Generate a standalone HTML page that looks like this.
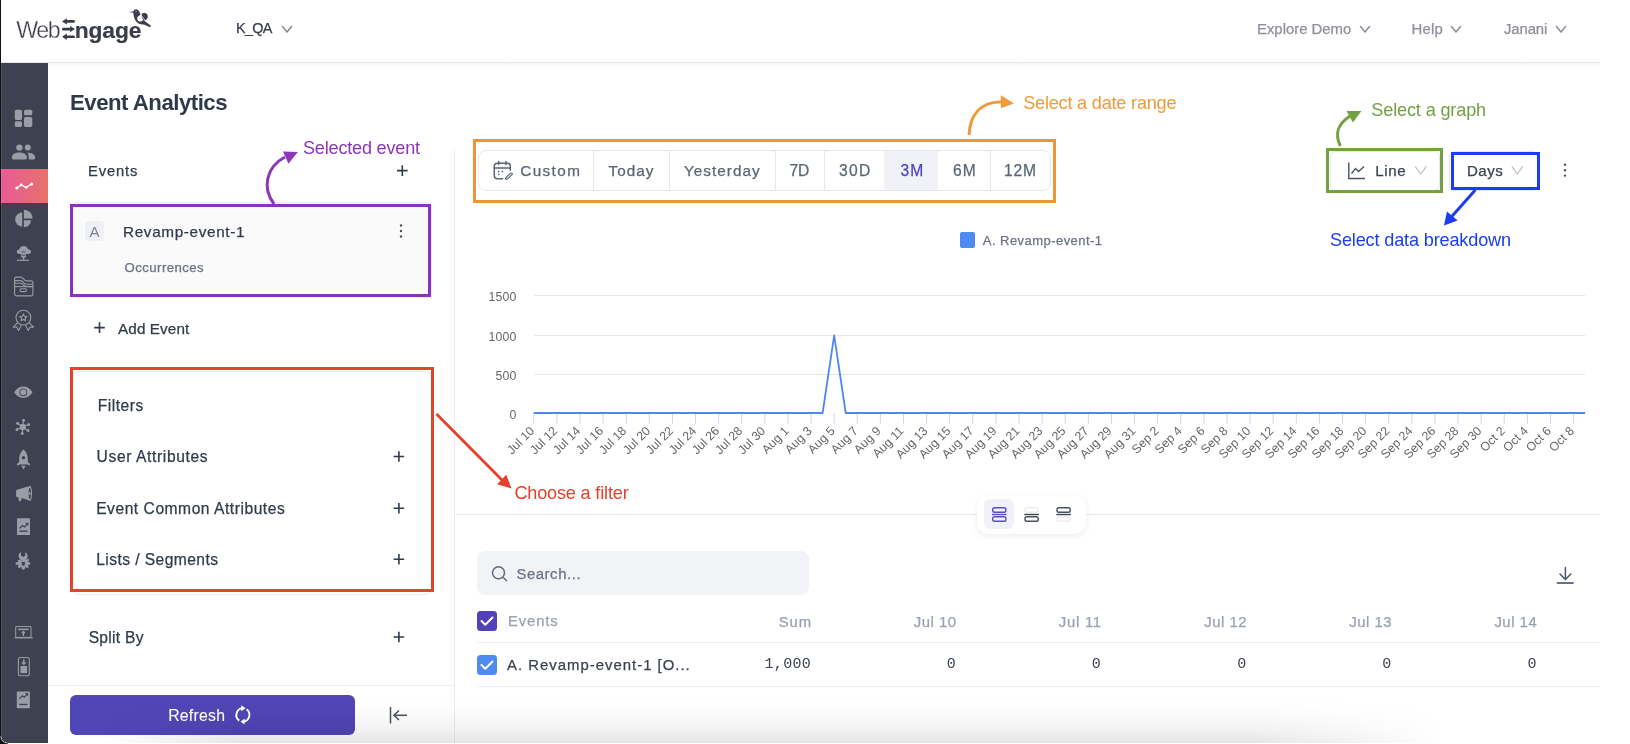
<!DOCTYPE html>
<html><head><meta charset="utf-8"><style>
html,body{margin:0;padding:0;background:#fff;}
#root{position:relative;-webkit-font-smoothing:antialiased;will-change:transform;width:1630px;height:744px;overflow:hidden;background:#fff;font-family:'Liberation Sans', sans-serif;}
.t{position:absolute;line-height:1;white-space:pre;-webkit-text-stroke:0.25px currentColor;}
.a{position:absolute;}
svg{position:absolute;overflow:visible;}
</style></head><body><div id="root">
<div class="a" style="left:0;top:0;width:1px;height:744px;background:#111;"></div><div class="a" style="left:1px;top:62px;width:1599px;height:1px;background:#e4e6ea;"></div><div class="a" style="left:48px;top:63px;width:1552px;height:4px;background:linear-gradient(#f3f4f6,#fff);"></div><svg style="left:0;top:0" width="160" height="50" viewBox="0 0 160 50">
<g fill="#3b3d4b">
<rect x="65.5" y="20.1" width="9.4" height="2.7" rx="1.2"/><path d="M62 21.45 L66.8 18.3 L66.8 24.6 Z"/>
<rect x="62" y="27.75" width="9.4" height="2.7" rx="1.2"/><path d="M74.9 29.1 L70.1 25.95 L70.1 32.25 Z"/>
<rect x="65.5" y="35.4" width="9.4" height="2.7" rx="1.2"/><path d="M62 36.75 L66.8 33.6 L66.8 39.9 Z"/>
<path d="M129 12.2 L133.4 11.3 C133.9 9.9 134.9 9.2 136 9.2 C137.6 9.2 139 10.5 140.6 14.2 L139.6 15.4 C138 15.8 137.2 17 137.2 18.5 C137.2 20.4 138.7 21.6 140.3 21.6 C141.5 21.6 142.4 21 143.1 20.1 L145 21.2 L151 25.7 L149.8 27.3 L144 24.5 C142.5 24.6 140.5 24.4 138.6 23.5 C135.2 21.7 133.8 18.2 133.4 13.6 L133 12.6 Z"/>
<path d="M141.6 14.4 C142.2 13.2 143.4 13.1 144.6 13.1 C146.5 13.1 147.8 14.6 147.8 16.4 C147.8 18.4 146.2 19.8 144.5 20.6 L143.2 20 C142.4 18.4 141.2 15.8 141.6 14.4 Z"/>
</g>
<path d="M140.8 14.6 L145 20.3" stroke="#fff" stroke-width="0.7"/>
<rect x="135.4" y="10.9" width="1.3" height="1.3" fill="#9a9ca6"/>
</svg><svg style="left:0;top:0" width="1" height="1"><path d="M282.5 26.5 L287.0 32 L291.5 26.5" fill="none" stroke="#8b8e97" stroke-width="1.6" stroke-linecap="round" stroke-linejoin="round"/></svg><svg style="left:0;top:0" width="1" height="1"><path d="M1360.5 26.5 L1365.0 32 L1369.5 26.5" fill="none" stroke="#8f919a" stroke-width="1.6" stroke-linecap="round" stroke-linejoin="round"/></svg><svg style="left:0;top:0" width="1" height="1"><path d="M1451.5 26.5 L1456.0 32 L1460.5 26.5" fill="none" stroke="#8f919a" stroke-width="1.6" stroke-linecap="round" stroke-linejoin="round"/></svg><svg style="left:0;top:0" width="1" height="1"><path d="M1556.5 26.5 L1561.0 32 L1565.5 26.5" fill="none" stroke="#8f919a" stroke-width="1.6" stroke-linecap="round" stroke-linejoin="round"/></svg><div class="a" style="left:1px;top:63px;width:47px;height:680px;background:#3e414f;border-bottom-left-radius:6px;"></div><div class="a" style="left:1px;top:169px;width:47px;height:34px;background:linear-gradient(90deg,#e95b96,#e8716a);"></div><div class="a" style="left:1px;top:63px;width:1px;height:675px;background:rgba(255,255,255,0.09);"></div><svg style="left:0;top:0" width="48" height="744" viewBox="0 0 48 744">
<g fill="#9a9ca6">
<rect x="14.8" y="109.7" width="7.2" height="10.3" rx="1.6"/>
<rect x="24" y="109.7" width="8.3" height="5.6" rx="1.6"/>
<rect x="14.8" y="121.3" width="7.2" height="5.6" rx="1.6"/>
<rect x="24" y="117" width="8.3" height="9.9" rx="1.6"/>
<circle cx="19.4" cy="147.6" r="3.2"/><circle cx="27.8" cy="147.6" r="3"/>
<path d="M13.3 159.4 Q11.8 159.4 11.8 157.8 C11.8 154.2 15.3 152.4 19.4 152.4 C23.5 152.4 27 154.2 27 157.8 Q27 159.4 25.5 159.4 Z"/>
<path d="M27.4 152.6 C31.8 152.8 35.2 154.5 35.2 157.8 Q35.2 159.4 33.7 159.4 L29.6 159.4 Q28.7 159.4 28.7 158.4 C28.7 155.8 28.5 154.2 27.4 152.6 Z"/>
<path d="M22.2 212.5 A7.05 7.05 0 0 0 22.2 226.6 Z"/>
<path d="M23.9 209.8 A8.7 8.7 0 0 1 32.6 218.5 L23.9 218.5 Z"/>
<path d="M23.9 220.2 L30.95 220.2 A7.05 7.05 0 0 1 23.9 227.25 Z"/>
<path d="M19 254 C17.6 254 16.8 253 16.8 251.8 C16.8 250.4 17.9 249.5 19.3 249.6 C19.7 247.4 21.5 246 23.7 246 C26 246 27.6 247.4 28 249.3 C29.7 249.2 31 250.3 31 251.7 C31 253 30 254 28.7 254 Z"/>
<rect x="21" y="253.8" width="5" height="3.6" rx="0.6"/>
<rect x="23" y="257" width="1.3" height="3"/>
<rect x="17" y="259.7" width="12" height="1.2"/>
</g>
<g fill="#3e414f"><rect x="21.6" y="251.5" width="3.8" height="0.8"/><rect x="21.6" y="254.8" width="3.8" height="0.8"/></g>
<g fill="none" stroke="#fff" stroke-width="1.3" stroke-linejoin="round"><path d="M16.8 188 L21.2 185 L26.2 187.4 L31.6 184"/></g>
<g fill="#fff"><circle cx="16.8" cy="188" r="1.5"/><circle cx="21.2" cy="185" r="1.4"/><circle cx="26.2" cy="187.4" r="1.4"/><circle cx="31.6" cy="184" r="1.5"/></g>
<g fill="none" stroke="#9a9ca6" stroke-width="1.1" stroke-linejoin="round">
<path d="M14.6 279 Q14.6 277.1 16.5 277.1 L20.5 277.1 C22.3 277.1 23 278 24 279.4 C24.8 280.5 25.5 280.9 26.6 280.9 L31 280.9 Q32.9 280.9 32.9 282.8 L32.9 294 Q32.9 295.9 31 295.9 L16.5 295.9 Q14.6 295.9 14.6 294 Z"/>
<path d="M14.6 280.6 L20.3 280.6 C22 280.6 22.8 281.5 23.8 282.8 C24.6 283.8 25.4 284.2 26.5 284.2 L32.9 284.2"/>
<path d="M14.6 283.3 L20.3 283.3 C22 283.3 22.8 284.2 23.8 285.2 C24.4 285.8 25.2 286.6 26.5 286.6 L32.9 286.6"/>
<path d="M14.6 286.6 L32.9 286.6"/>
<rect x="20" y="288.8" width="6.5" height="2.8" rx="1.4"/>
<circle cx="23.4" cy="317.6" r="7.4"/>
<path d="M23.4 313.9 L24.5 316.3 L27 316.5 L25.1 318.2 L25.7 320.7 L23.4 319.4 L21.1 320.7 L21.7 318.2 L19.8 316.5 L22.3 316.3 Z"/>
<path d="M17.8 322.6 L13.2 327.2 L16.6 327.1 L18.6 330.6 L21.2 325.2"/>
<path d="M29 322.6 L33.6 327.2 L30.2 327.1 L28.2 330.6 L25.6 325.2"/>
<path d="M15.7 626.6 L31 626.6 L31 637.4 L15.7 637.4 Z" stroke-width="1"/>
<path d="M14.5 637.9 L32.8 637.9" stroke-width="1.1"/>
<path d="M18 629.4 L28.8 629.4" stroke-width="1.5"/>
<path d="M23.4 631.5 L23.4 636 M21.8 633 L23.4 631.5 L25 633" stroke-width="1.3"/>
<rect x="18.4" y="657.5" width="10.9" height="18.3" rx="2" stroke-width="1.1"/>
</g>
<path d="M14.2 392.3 C16.5 388.5 19.6 386.6 23.3 386.6 C27 386.6 30.1 388.5 32.5 392.3 C30.1 396.1 27 398 23.3 398 C19.6 398 16.5 396.1 14.2 392.3 Z" fill="#9a9ca6"/>
<circle cx="23.3" cy="392.3" r="3.9" fill="#3e414f"/><circle cx="23.3" cy="392.3" r="3" fill="#9a9ca6"/>
<g stroke="#9a9ca6" stroke-width="1.1"><path d="M22.8 427 L23.5 420.3 M22.8 427 L17.6 423.2 M22.8 427 L28.6 424.5 M22.8 427 L17 429.6 M22.8 427 L22.2 433.5 M22.8 427 L28 430.6"/></g>
<g fill="#9a9ca6"><circle cx="22.8" cy="427" r="3.2"/><circle cx="23.5" cy="420.3" r="1.5"/><circle cx="17.6" cy="423.2" r="1.5"/><circle cx="28.6" cy="424.5" r="1.5"/><circle cx="17" cy="429.6" r="1.5"/><circle cx="22.2" cy="433.5" r="1.5"/><circle cx="28" cy="430.6" r="1.5"/>
<path d="M23.5 449.6 C26.2 451.5 27.8 455 27.8 459 L27.8 462 L30 464 L30 465.5 L27.5 464.8 L19.5 464.8 L17 465.5 L17 464 L19.2 462 L19.2 459 C19.2 455 20.8 451.5 23.5 449.6 Z"/>
<path d="M21.2 465.6 L25.8 465.6 L24.6 467.5 L23.5 469.4 L22.4 467.5 Z"/>
<path d="M16.2 490 L28.5 486.2 L29.5 500.5 L21.5 498 L21 501 L19 501.2 L18.2 497.2 L16 496.5 Z"/>
<ellipse cx="29.8" cy="493.4" rx="2.3" ry="7.6"/>
<rect x="17" y="518.2" width="13" height="16.9" rx="0.6"/>
<path d="M21 552.2 C19 553 18.4 554.8 18.6 556.5 C18.9 558.4 20.2 559.7 21.6 560.3 L21.6 562 L25 562 L25 560.3 C26.6 559.6 27.6 558.2 27.6 556.3 C27.6 554.6 26.9 553 25.3 552.2 L25.3 555.5 L23.3 557 L21 555.5 Z"/>
<path d="M20.3 559.8 L21.6 558.7 L21.6 563 L25 563 L25 558.7 L26.3 559.8 L28.2 558.6 L29.2 560 L28 561.8 L30.2 562.5 L30.2 564.4 L28 565 L28.8 567.2 L27.2 568.2 L25.6 566.7 L24.4 569.4 L22.2 569.4 L21 566.7 L19.4 568.2 L17.8 567.2 L18.6 565 L15.6 564.4 L15.6 562.5 L18.6 561.8 L17.4 560 Z"/>
<rect x="20.5" y="666" width="6.6" height="7.2"/>
<rect x="16.8" y="691.5" width="13.1" height="16.8" rx="0.6"/>
</g>
<ellipse cx="29.8" cy="493.4" rx="1.1" ry="5.6" fill="#3e414f"/>
<path d="M29 491.6 L31 493.4 L29 495.2 Z" fill="#9a9ca6"/>
<circle cx="23.5" cy="457.8" r="1.7" fill="#3e414f"/>
<path d="M19.4 465 L27.6 465" stroke="#3e414f" stroke-width="0.8"/>
<g fill="none" stroke="#3e414f" stroke-width="1.1"><path d="M19.5 528.5 L22.5 525.5 L24.5 527 L27.8 523.3 M25.7 523.3 L27.8 523.3 L27.8 525.4"/><path d="M19.3 698.8 L22.3 695.8 L24.3 697.3 L27.6 693.6 M25.5 693.6 L27.6 693.6 L27.6 695.7"/></g>
<g fill="#3e414f"><rect x="19.5" y="530.5" width="8" height="1.3"/><rect x="19.3" y="703.8" width="8" height="1.3"/><circle cx="23.3" cy="564" r="1.7"/></g>
<path d="M23.8 659.3 L23.8 664 M22 662.3 L23.8 664.2 L25.6 662.3" fill="none" stroke="#9a9ca6" stroke-width="1.4"/>
</svg><div class="a" style="left:454px;top:150px;width:1px;height:594px;background:#eceef2;"></div><svg style="left:0;top:0" width="1" height="1"><path d="M397.0 170.6 L407.6 170.6 M402.3 165.29999999999998 L402.3 175.9" stroke="#313b4b" stroke-width="1.6"/></svg><div class="a" style="left:71px;top:202px;width:359px;height:94px;background:#fafafb;border-radius:6px;border:1px solid #e8eaee;"></div><div class="a" style="left:85px;top:221px;width:19px;height:20px;background:#eef0f5;border-radius:4px;"></div><svg style="left:0;top:0" width="1" height="1"><g fill="#4b5260"><circle cx="401" cy="225.5" r="1.2"/><circle cx="401" cy="231" r="1.2"/><circle cx="401" cy="236.5" r="1.2"/></g></svg><svg style="left:0;top:0" width="1" height="1"><path d="M94.2 327.6 L104.8 327.6 M99.5 322.3 L99.5 332.90000000000003" stroke="#313b4b" stroke-width="1.6"/></svg><div class="a" style="left:72px;top:370.5px;width:358px;height:222px;border:1px solid #e9ebef;border-radius:6px;background:#fff;"></div><svg style="left:0;top:0" width="1" height="1"><path d="M393.59999999999997 456.5 L404.2 456.5 M398.9 451.2 L398.9 461.8" stroke="#313b4b" stroke-width="1.6"/></svg><svg style="left:0;top:0" width="1" height="1"><path d="M393.59999999999997 508.2 L404.2 508.2 M398.9 502.9 L398.9 513.5" stroke="#313b4b" stroke-width="1.6"/></svg><svg style="left:0;top:0" width="1" height="1"><path d="M393.59999999999997 559.3 L404.2 559.3 M398.9 554.0 L398.9 564.5999999999999" stroke="#313b4b" stroke-width="1.6"/></svg><svg style="left:0;top:0" width="1" height="1"><path d="M393.59999999999997 637 L404.2 637 M398.9 631.7 L398.9 642.3" stroke="#313b4b" stroke-width="1.6"/></svg><div class="a" style="left:48px;top:685px;width:406px;height:1px;background:#eceef2;"></div><div class="a" style="left:70px;top:695px;width:285px;height:40px;background:#5046b6;border-radius:6px;"></div><svg style="left:0;top:0" width="1" height="1"><g fill="none" stroke="#fff" stroke-width="1.9">
<path d="M242.6 708.1 A6.9 6.9 0 0 0 239.3 720.6"/><path d="M246.6 709.3 A6.9 6.9 0 0 1 243.4 721.7"/></g>
<g fill="#fff"><path d="M241.3 705.2 L245.6 708.3 L241.3 711.2 Z"/><path d="M244.7 718.6 L240.5 721.7 L244.7 724.6 Z"/></g></svg><svg style="left:0;top:0" width="1" height="1"><g fill="none" stroke="#4b5260" stroke-width="1.5">
<path d="M390.5 707 L390.5 723.5"/><path d="M394 715.3 L407 715.3"/><path d="M399 710.5 L394 715.3 L399 720"/></g></svg><div class="a" style="left:477.5px;top:150px;width:571.5px;height:38.5px;border:1px solid #e5e7ec;border-radius:8px;background:#fff;"></div><div class="a" style="left:884px;top:151px;width:54px;height:38.5px;background:#f1f2f7;"></div><div class="a" style="left:592.9px;top:151px;width:1px;height:38.5px;background:#e5e7ec;"></div><div class="a" style="left:668.9px;top:151px;width:1px;height:38.5px;background:#e5e7ec;"></div><div class="a" style="left:775.1px;top:151px;width:1px;height:38.5px;background:#e5e7ec;"></div><div class="a" style="left:824.0px;top:151px;width:1px;height:38.5px;background:#e5e7ec;"></div><div class="a" style="left:990.0px;top:151px;width:1px;height:38.5px;background:#e5e7ec;"></div><svg style="left:0;top:0" width="1" height="1"><g fill="none" stroke="#5b6577" stroke-width="1.5" stroke-linecap="round">
<path d="M510.3 170.3 L510.3 166.3 Q510.3 163.3 507.3 163.3 L497.3 163.3 Q494.3 163.3 494.3 166.3 L494.3 175.8 Q494.3 178.8 497.3 178.8 L502.5 178.8"/>
<path d="M494.3 167.9 L510.3 167.9"/><path d="M498.7 161.6 L498.7 164.6 M506 161.6 L506 164.6"/>
<path d="M505.9 177.6 L510.4 173.4 Q511.3 172.6 512 173.4 Q512.6 174.2 511.8 174.9 L507.3 179 Q506.3 179.6 505.7 179 Q505.2 178.3 505.9 177.6 Z" stroke-width="1.2"/></g>
<g fill="#5b6577"><rect x="498" y="170.8" width="1.5" height="1.5"/><rect x="501.6" y="170.8" width="1.5" height="1.5"/><rect x="498" y="173.8" width="1.5" height="1.3"/></g></svg><div class="a" style="left:1330px;top:151px;width:108px;height:38px;border:1px solid #e5e7ec;border-radius:6px;"></div><div class="a" style="left:1449px;top:151px;width:87px;height:38px;border:1px solid #e5e7ec;border-radius:6px;"></div><svg style="left:0;top:0" width="1" height="1"><g fill="none" stroke="#4b5260" stroke-width="1.4">
<path d="M1348.8 162.5 L1348.8 178.5 L1365 178.5"/><path d="M1351.5 173.5 L1355.5 168.5 L1358.5 171.5 L1364 166.5"/></g></svg><svg style="left:0;top:0" width="1" height="1"><path d="M1415.5 166.8 L1420.75 174 L1426 166.8" fill="none" stroke="#b9bdc5" stroke-width="1.2" stroke-linecap="round" stroke-linejoin="round"/></svg><svg style="left:0;top:0" width="1" height="1"><path d="M1512.2 166.8 L1517.3000000000002 174 L1522.4 166.8" fill="none" stroke="#b9bdc5" stroke-width="1.2" stroke-linecap="round" stroke-linejoin="round"/></svg><svg style="left:0;top:0" width="1" height="1"><g fill="#4b5260"><circle cx="1565" cy="164.8" r="1.2"/><circle cx="1565" cy="170.2" r="1.2"/><circle cx="1565" cy="175.6" r="1.2"/></g></svg><div class="a" style="left:960px;top:232px;width:15px;height:15.5px;background:#4f8af0;border-radius:2px;"></div><div class="a" style="left:534px;top:294.5px;width:1051px;height:1px;background:#e6e6e6;"></div><div class="a" style="left:534px;top:334.8px;width:1051px;height:1px;background:#e6e6e6;"></div><div class="a" style="left:534px;top:373.5px;width:1051px;height:1px;background:#e6e6e6;"></div><svg style="left:0;top:0" width="1" height="1"><path d="M533.80 413 L533.80 423.5" stroke="#ccd6eb" stroke-width="1"/><path d="M556.91 413 L556.91 423.5" stroke="#ccd6eb" stroke-width="1"/><path d="M580.01 413 L580.01 423.5" stroke="#ccd6eb" stroke-width="1"/><path d="M603.12 413 L603.12 423.5" stroke="#ccd6eb" stroke-width="1"/><path d="M626.22 413 L626.22 423.5" stroke="#ccd6eb" stroke-width="1"/><path d="M649.33 413 L649.33 423.5" stroke="#ccd6eb" stroke-width="1"/><path d="M672.44 413 L672.44 423.5" stroke="#ccd6eb" stroke-width="1"/><path d="M695.54 413 L695.54 423.5" stroke="#ccd6eb" stroke-width="1"/><path d="M718.65 413 L718.65 423.5" stroke="#ccd6eb" stroke-width="1"/><path d="M741.75 413 L741.75 423.5" stroke="#ccd6eb" stroke-width="1"/><path d="M764.86 413 L764.86 423.5" stroke="#ccd6eb" stroke-width="1"/><path d="M787.97 413 L787.97 423.5" stroke="#ccd6eb" stroke-width="1"/><path d="M811.07 413 L811.07 423.5" stroke="#ccd6eb" stroke-width="1"/><path d="M834.18 413 L834.18 423.5" stroke="#ccd6eb" stroke-width="1"/><path d="M857.28 413 L857.28 423.5" stroke="#ccd6eb" stroke-width="1"/><path d="M880.39 413 L880.39 423.5" stroke="#ccd6eb" stroke-width="1"/><path d="M903.50 413 L903.50 423.5" stroke="#ccd6eb" stroke-width="1"/><path d="M926.60 413 L926.60 423.5" stroke="#ccd6eb" stroke-width="1"/><path d="M949.71 413 L949.71 423.5" stroke="#ccd6eb" stroke-width="1"/><path d="M972.81 413 L972.81 423.5" stroke="#ccd6eb" stroke-width="1"/><path d="M995.92 413 L995.92 423.5" stroke="#ccd6eb" stroke-width="1"/><path d="M1019.03 413 L1019.03 423.5" stroke="#ccd6eb" stroke-width="1"/><path d="M1042.13 413 L1042.13 423.5" stroke="#ccd6eb" stroke-width="1"/><path d="M1065.24 413 L1065.24 423.5" stroke="#ccd6eb" stroke-width="1"/><path d="M1088.34 413 L1088.34 423.5" stroke="#ccd6eb" stroke-width="1"/><path d="M1111.45 413 L1111.45 423.5" stroke="#ccd6eb" stroke-width="1"/><path d="M1134.56 413 L1134.56 423.5" stroke="#ccd6eb" stroke-width="1"/><path d="M1157.66 413 L1157.66 423.5" stroke="#ccd6eb" stroke-width="1"/><path d="M1180.77 413 L1180.77 423.5" stroke="#ccd6eb" stroke-width="1"/><path d="M1203.87 413 L1203.87 423.5" stroke="#ccd6eb" stroke-width="1"/><path d="M1226.98 413 L1226.98 423.5" stroke="#ccd6eb" stroke-width="1"/><path d="M1250.09 413 L1250.09 423.5" stroke="#ccd6eb" stroke-width="1"/><path d="M1273.19 413 L1273.19 423.5" stroke="#ccd6eb" stroke-width="1"/><path d="M1296.30 413 L1296.30 423.5" stroke="#ccd6eb" stroke-width="1"/><path d="M1319.40 413 L1319.40 423.5" stroke="#ccd6eb" stroke-width="1"/><path d="M1342.51 413 L1342.51 423.5" stroke="#ccd6eb" stroke-width="1"/><path d="M1365.62 413 L1365.62 423.5" stroke="#ccd6eb" stroke-width="1"/><path d="M1388.72 413 L1388.72 423.5" stroke="#ccd6eb" stroke-width="1"/><path d="M1411.83 413 L1411.83 423.5" stroke="#ccd6eb" stroke-width="1"/><path d="M1434.93 413 L1434.93 423.5" stroke="#ccd6eb" stroke-width="1"/><path d="M1458.04 413 L1458.04 423.5" stroke="#ccd6eb" stroke-width="1"/><path d="M1481.15 413 L1481.15 423.5" stroke="#ccd6eb" stroke-width="1"/><path d="M1504.25 413 L1504.25 423.5" stroke="#ccd6eb" stroke-width="1"/><path d="M1527.36 413 L1527.36 423.5" stroke="#ccd6eb" stroke-width="1"/><path d="M1550.46 413 L1550.46 423.5" stroke="#ccd6eb" stroke-width="1"/><path d="M1573.57 413 L1573.57 423.5" stroke="#ccd6eb" stroke-width="1"/><polyline points="533.80,413 545.35,413 556.91,413 568.46,413 580.01,413 591.56,413 603.12,413 614.67,413 626.22,413 637.78,413 649.33,413 660.88,413 672.44,413 683.99,413 695.54,413 707.10,413 718.65,413 730.20,413 741.75,413 753.31,413 764.86,413 776.41,413 787.97,413 799.52,413 811.07,413 822.62,413 834.18,335.3 845.73,413 857.28,413 868.84,413 880.39,413 891.94,413 903.50,413 915.05,413 926.60,413 938.15,413 949.71,413 961.26,413 972.81,413 984.37,413 995.92,413 1007.47,413 1019.03,413 1030.58,413 1042.13,413 1053.68,413 1065.24,413 1076.79,413 1088.34,413 1099.90,413 1111.45,413 1123.00,413 1134.56,413 1146.11,413 1157.66,413 1169.22,413 1180.77,413 1192.32,413 1203.87,413 1215.43,413 1226.98,413 1238.53,413 1250.09,413 1261.64,413 1273.19,413 1284.74,413 1296.30,413 1307.85,413 1319.40,413 1330.96,413 1342.51,413 1354.06,413 1365.62,413 1377.17,413 1388.72,413 1400.28,413 1411.83,413 1423.38,413 1434.93,413 1446.49,413 1458.04,413 1469.59,413 1481.15,413 1492.70,413 1504.25,413 1515.81,413 1527.36,413 1538.91,413 1550.46,413 1562.02,413 1573.57,413 1585.12,413" fill="none" stroke="#4f86f0" stroke-width="1.8" stroke-linejoin="round"/></svg><div class="a" style="left:536.80px;top:433px;width:0;height:0;"><div style="position:absolute;right:0;bottom:0;transform-origin:100% 100%;transform:rotate(-45deg);font-size:12.3px;color:#666;line-height:1;white-space:nowrap;">Jul 10</div></div><div class="a" style="left:559.91px;top:433px;width:0;height:0;"><div style="position:absolute;right:0;bottom:0;transform-origin:100% 100%;transform:rotate(-45deg);font-size:12.3px;color:#666;line-height:1;white-space:nowrap;">Jul 12</div></div><div class="a" style="left:583.01px;top:433px;width:0;height:0;"><div style="position:absolute;right:0;bottom:0;transform-origin:100% 100%;transform:rotate(-45deg);font-size:12.3px;color:#666;line-height:1;white-space:nowrap;">Jul 14</div></div><div class="a" style="left:606.12px;top:433px;width:0;height:0;"><div style="position:absolute;right:0;bottom:0;transform-origin:100% 100%;transform:rotate(-45deg);font-size:12.3px;color:#666;line-height:1;white-space:nowrap;">Jul 16</div></div><div class="a" style="left:629.22px;top:433px;width:0;height:0;"><div style="position:absolute;right:0;bottom:0;transform-origin:100% 100%;transform:rotate(-45deg);font-size:12.3px;color:#666;line-height:1;white-space:nowrap;">Jul 18</div></div><div class="a" style="left:652.33px;top:433px;width:0;height:0;"><div style="position:absolute;right:0;bottom:0;transform-origin:100% 100%;transform:rotate(-45deg);font-size:12.3px;color:#666;line-height:1;white-space:nowrap;">Jul 20</div></div><div class="a" style="left:675.44px;top:433px;width:0;height:0;"><div style="position:absolute;right:0;bottom:0;transform-origin:100% 100%;transform:rotate(-45deg);font-size:12.3px;color:#666;line-height:1;white-space:nowrap;">Jul 22</div></div><div class="a" style="left:698.54px;top:433px;width:0;height:0;"><div style="position:absolute;right:0;bottom:0;transform-origin:100% 100%;transform:rotate(-45deg);font-size:12.3px;color:#666;line-height:1;white-space:nowrap;">Jul 24</div></div><div class="a" style="left:721.65px;top:433px;width:0;height:0;"><div style="position:absolute;right:0;bottom:0;transform-origin:100% 100%;transform:rotate(-45deg);font-size:12.3px;color:#666;line-height:1;white-space:nowrap;">Jul 26</div></div><div class="a" style="left:744.75px;top:433px;width:0;height:0;"><div style="position:absolute;right:0;bottom:0;transform-origin:100% 100%;transform:rotate(-45deg);font-size:12.3px;color:#666;line-height:1;white-space:nowrap;">Jul 28</div></div><div class="a" style="left:767.86px;top:433px;width:0;height:0;"><div style="position:absolute;right:0;bottom:0;transform-origin:100% 100%;transform:rotate(-45deg);font-size:12.3px;color:#666;line-height:1;white-space:nowrap;">Jul 30</div></div><div class="a" style="left:790.97px;top:433px;width:0;height:0;"><div style="position:absolute;right:0;bottom:0;transform-origin:100% 100%;transform:rotate(-45deg);font-size:12.3px;color:#666;line-height:1;white-space:nowrap;">Aug 1</div></div><div class="a" style="left:814.07px;top:433px;width:0;height:0;"><div style="position:absolute;right:0;bottom:0;transform-origin:100% 100%;transform:rotate(-45deg);font-size:12.3px;color:#666;line-height:1;white-space:nowrap;">Aug 3</div></div><div class="a" style="left:837.18px;top:433px;width:0;height:0;"><div style="position:absolute;right:0;bottom:0;transform-origin:100% 100%;transform:rotate(-45deg);font-size:12.3px;color:#666;line-height:1;white-space:nowrap;">Aug 5</div></div><div class="a" style="left:860.28px;top:433px;width:0;height:0;"><div style="position:absolute;right:0;bottom:0;transform-origin:100% 100%;transform:rotate(-45deg);font-size:12.3px;color:#666;line-height:1;white-space:nowrap;">Aug 7</div></div><div class="a" style="left:883.39px;top:433px;width:0;height:0;"><div style="position:absolute;right:0;bottom:0;transform-origin:100% 100%;transform:rotate(-45deg);font-size:12.3px;color:#666;line-height:1;white-space:nowrap;">Aug 9</div></div><div class="a" style="left:906.50px;top:433px;width:0;height:0;"><div style="position:absolute;right:0;bottom:0;transform-origin:100% 100%;transform:rotate(-45deg);font-size:12.3px;color:#666;line-height:1;white-space:nowrap;">Aug 11</div></div><div class="a" style="left:929.60px;top:433px;width:0;height:0;"><div style="position:absolute;right:0;bottom:0;transform-origin:100% 100%;transform:rotate(-45deg);font-size:12.3px;color:#666;line-height:1;white-space:nowrap;">Aug 13</div></div><div class="a" style="left:952.71px;top:433px;width:0;height:0;"><div style="position:absolute;right:0;bottom:0;transform-origin:100% 100%;transform:rotate(-45deg);font-size:12.3px;color:#666;line-height:1;white-space:nowrap;">Aug 15</div></div><div class="a" style="left:975.81px;top:433px;width:0;height:0;"><div style="position:absolute;right:0;bottom:0;transform-origin:100% 100%;transform:rotate(-45deg);font-size:12.3px;color:#666;line-height:1;white-space:nowrap;">Aug 17</div></div><div class="a" style="left:998.92px;top:433px;width:0;height:0;"><div style="position:absolute;right:0;bottom:0;transform-origin:100% 100%;transform:rotate(-45deg);font-size:12.3px;color:#666;line-height:1;white-space:nowrap;">Aug 19</div></div><div class="a" style="left:1022.03px;top:433px;width:0;height:0;"><div style="position:absolute;right:0;bottom:0;transform-origin:100% 100%;transform:rotate(-45deg);font-size:12.3px;color:#666;line-height:1;white-space:nowrap;">Aug 21</div></div><div class="a" style="left:1045.13px;top:433px;width:0;height:0;"><div style="position:absolute;right:0;bottom:0;transform-origin:100% 100%;transform:rotate(-45deg);font-size:12.3px;color:#666;line-height:1;white-space:nowrap;">Aug 23</div></div><div class="a" style="left:1068.24px;top:433px;width:0;height:0;"><div style="position:absolute;right:0;bottom:0;transform-origin:100% 100%;transform:rotate(-45deg);font-size:12.3px;color:#666;line-height:1;white-space:nowrap;">Aug 25</div></div><div class="a" style="left:1091.34px;top:433px;width:0;height:0;"><div style="position:absolute;right:0;bottom:0;transform-origin:100% 100%;transform:rotate(-45deg);font-size:12.3px;color:#666;line-height:1;white-space:nowrap;">Aug 27</div></div><div class="a" style="left:1114.45px;top:433px;width:0;height:0;"><div style="position:absolute;right:0;bottom:0;transform-origin:100% 100%;transform:rotate(-45deg);font-size:12.3px;color:#666;line-height:1;white-space:nowrap;">Aug 29</div></div><div class="a" style="left:1137.56px;top:433px;width:0;height:0;"><div style="position:absolute;right:0;bottom:0;transform-origin:100% 100%;transform:rotate(-45deg);font-size:12.3px;color:#666;line-height:1;white-space:nowrap;">Aug 31</div></div><div class="a" style="left:1160.66px;top:433px;width:0;height:0;"><div style="position:absolute;right:0;bottom:0;transform-origin:100% 100%;transform:rotate(-45deg);font-size:12.3px;color:#666;line-height:1;white-space:nowrap;">Sep 2</div></div><div class="a" style="left:1183.77px;top:433px;width:0;height:0;"><div style="position:absolute;right:0;bottom:0;transform-origin:100% 100%;transform:rotate(-45deg);font-size:12.3px;color:#666;line-height:1;white-space:nowrap;">Sep 4</div></div><div class="a" style="left:1206.87px;top:433px;width:0;height:0;"><div style="position:absolute;right:0;bottom:0;transform-origin:100% 100%;transform:rotate(-45deg);font-size:12.3px;color:#666;line-height:1;white-space:nowrap;">Sep 6</div></div><div class="a" style="left:1229.98px;top:433px;width:0;height:0;"><div style="position:absolute;right:0;bottom:0;transform-origin:100% 100%;transform:rotate(-45deg);font-size:12.3px;color:#666;line-height:1;white-space:nowrap;">Sep 8</div></div><div class="a" style="left:1253.09px;top:433px;width:0;height:0;"><div style="position:absolute;right:0;bottom:0;transform-origin:100% 100%;transform:rotate(-45deg);font-size:12.3px;color:#666;line-height:1;white-space:nowrap;">Sep 10</div></div><div class="a" style="left:1276.19px;top:433px;width:0;height:0;"><div style="position:absolute;right:0;bottom:0;transform-origin:100% 100%;transform:rotate(-45deg);font-size:12.3px;color:#666;line-height:1;white-space:nowrap;">Sep 12</div></div><div class="a" style="left:1299.30px;top:433px;width:0;height:0;"><div style="position:absolute;right:0;bottom:0;transform-origin:100% 100%;transform:rotate(-45deg);font-size:12.3px;color:#666;line-height:1;white-space:nowrap;">Sep 14</div></div><div class="a" style="left:1322.40px;top:433px;width:0;height:0;"><div style="position:absolute;right:0;bottom:0;transform-origin:100% 100%;transform:rotate(-45deg);font-size:12.3px;color:#666;line-height:1;white-space:nowrap;">Sep 16</div></div><div class="a" style="left:1345.51px;top:433px;width:0;height:0;"><div style="position:absolute;right:0;bottom:0;transform-origin:100% 100%;transform:rotate(-45deg);font-size:12.3px;color:#666;line-height:1;white-space:nowrap;">Sep 18</div></div><div class="a" style="left:1368.62px;top:433px;width:0;height:0;"><div style="position:absolute;right:0;bottom:0;transform-origin:100% 100%;transform:rotate(-45deg);font-size:12.3px;color:#666;line-height:1;white-space:nowrap;">Sep 20</div></div><div class="a" style="left:1391.72px;top:433px;width:0;height:0;"><div style="position:absolute;right:0;bottom:0;transform-origin:100% 100%;transform:rotate(-45deg);font-size:12.3px;color:#666;line-height:1;white-space:nowrap;">Sep 22</div></div><div class="a" style="left:1414.83px;top:433px;width:0;height:0;"><div style="position:absolute;right:0;bottom:0;transform-origin:100% 100%;transform:rotate(-45deg);font-size:12.3px;color:#666;line-height:1;white-space:nowrap;">Sep 24</div></div><div class="a" style="left:1437.93px;top:433px;width:0;height:0;"><div style="position:absolute;right:0;bottom:0;transform-origin:100% 100%;transform:rotate(-45deg);font-size:12.3px;color:#666;line-height:1;white-space:nowrap;">Sep 26</div></div><div class="a" style="left:1461.04px;top:433px;width:0;height:0;"><div style="position:absolute;right:0;bottom:0;transform-origin:100% 100%;transform:rotate(-45deg);font-size:12.3px;color:#666;line-height:1;white-space:nowrap;">Sep 28</div></div><div class="a" style="left:1484.15px;top:433px;width:0;height:0;"><div style="position:absolute;right:0;bottom:0;transform-origin:100% 100%;transform:rotate(-45deg);font-size:12.3px;color:#666;line-height:1;white-space:nowrap;">Sep 30</div></div><div class="a" style="left:1507.25px;top:433px;width:0;height:0;"><div style="position:absolute;right:0;bottom:0;transform-origin:100% 100%;transform:rotate(-45deg);font-size:12.3px;color:#666;line-height:1;white-space:nowrap;">Oct 2</div></div><div class="a" style="left:1530.36px;top:433px;width:0;height:0;"><div style="position:absolute;right:0;bottom:0;transform-origin:100% 100%;transform:rotate(-45deg);font-size:12.3px;color:#666;line-height:1;white-space:nowrap;">Oct 4</div></div><div class="a" style="left:1553.46px;top:433px;width:0;height:0;"><div style="position:absolute;right:0;bottom:0;transform-origin:100% 100%;transform:rotate(-45deg);font-size:12.3px;color:#666;line-height:1;white-space:nowrap;">Oct 6</div></div><div class="a" style="left:1576.57px;top:433px;width:0;height:0;"><div style="position:absolute;right:0;bottom:0;transform-origin:100% 100%;transform:rotate(-45deg);font-size:12.3px;color:#666;line-height:1;white-space:nowrap;">Oct 8</div></div><div class="a" style="left:454px;top:514px;width:1146px;height:1px;background:#e8eaef;"></div><div class="a" style="left:977px;top:494.5px;width:108.5px;height:39.5px;background:#fff;border-radius:11px;box-shadow:0 2px 6px rgba(0,0,0,0.07),0 0 1px rgba(0,0,0,0.06);"></div><div class="a" style="left:984px;top:499px;width:30px;height:30px;background:#f1f2f8;border-radius:6px;"></div><svg style="left:0;top:0" width="1" height="1"><g fill="none" stroke-width="1.4">
<rect x="992.7" y="507.7" width="13.2" height="4.6" rx="1.8" stroke="#5a4cc8"/>
<path d="M992 514.5 L1006.6 514.5" stroke="#5a4cc8"/>
<rect x="992.7" y="516.7" width="13.2" height="4.6" rx="1.8" stroke="#5a4cc8"/></g></svg><svg style="left:0;top:0" width="1" height="1"><g fill="none" stroke-width="1.4">
<rect x="1025.0" y="507.7" width="13.2" height="4.6" rx="1.8" stroke="#eceef2"/>
<path d="M1024.3 514.5 L1038.8999999999999 514.5" stroke="#3f4451"/>
<rect x="1025.0" y="516.7" width="13.2" height="4.6" rx="1.8" stroke="#4a5060"/></g></svg><svg style="left:0;top:0" width="1" height="1"><g fill="none" stroke-width="1.4">
<rect x="1057.0" y="507.7" width="13.2" height="4.6" rx="1.8" stroke="#4a5060"/>
<path d="M1056.3 514.5 L1070.8999999999999 514.5" stroke="#3f4451"/>
<rect x="1057.0" y="516.7" width="13.2" height="4.6" rx="1.8" stroke="#eceef2"/></g></svg><div class="a" style="left:477px;top:550.6px;width:332.4px;height:44.2px;background:#f2f3f7;border-radius:8px;"></div><svg style="left:0;top:0" width="1" height="1"><g fill="none" stroke="#5f6778" stroke-width="1.5"><circle cx="498.5" cy="572.8" r="6"/><path d="M503 577.3 L507 581"/></g></svg><svg style="left:0;top:0" width="1" height="1"><g fill="none" stroke="#4a5263" stroke-width="1.5" stroke-linecap="round"><path d="M1565.4 567.5 L1565.4 579.3 M1560 574 L1565.4 579.5 L1570.8 574"/><path d="M1557.5 583 L1573 583" stroke-width="1.8" stroke="#687083"/></g></svg><div class="a" style="left:477px;top:611px;width:20px;height:19.5px;background:#5241b8;border-radius:3.5px;"></div><svg style="left:0;top:0" width="1" height="1"><path d="M481.5 621 L485.3 624.8 L492.5 617.5" fill="none" stroke="#fff" stroke-width="2" stroke-linecap="round" stroke-linejoin="round"/></svg><div class="a" style="left:477px;top:642px;width:1123px;height:1px;background:#eceef2;"></div><div class="a" style="left:477px;top:655px;width:20px;height:19.5px;background:#4e8af0;border-radius:3.5px;"></div><svg style="left:0;top:0" width="1" height="1"><path d="M481.5 665 L485.3 668.8 L492.5 661.5" fill="none" stroke="#fff" stroke-width="2" stroke-linecap="round" stroke-linejoin="round"/></svg><div class="a" style="left:477px;top:686px;width:1123px;height:1px;background:#eceef2;"></div>
<div class="t" style="top:18.70px;font-size:23.2px;color:#3b3d4b;font-weight:400;font-family:'Liberation Sans', sans-serif;letter-spacing:-1.481px;left:16.30px;-webkit-text-stroke:0.3px #fff;">Web</div><div class="t" style="top:18.70px;font-size:22.8px;color:#3b3d4b;font-weight:700;font-family:'Liberation Sans', sans-serif;letter-spacing:-0.139px;left:74.80px;-webkit-text-stroke:0.2px #3b3d4b;">ngage</div><div class="t" style="top:21.30px;font-size:14.4px;color:#393c49;font-weight:400;font-family:'Liberation Sans', sans-serif;letter-spacing:-0.665px;left:236.00px;">K_QA</div><div class="t" style="top:21.70px;font-size:14.9px;color:#8f919a;font-weight:400;font-family:'Liberation Sans', sans-serif;letter-spacing:-0.006px;left:1257.00px;">Explore Demo</div><div class="t" style="top:21.70px;font-size:14.9px;color:#8f919a;font-weight:400;font-family:'Liberation Sans', sans-serif;letter-spacing:0.219px;left:1411.50px;">Help</div><div class="t" style="top:21.70px;font-size:14.9px;color:#8f919a;font-weight:400;font-family:'Liberation Sans', sans-serif;letter-spacing:-0.114px;left:1504.00px;">Janani</div><div class="t" style="top:91.60px;font-size:22.2px;color:#2f394a;font-weight:700;font-family:'Liberation Sans', sans-serif;letter-spacing:-0.493px;left:70.00px;-webkit-text-stroke:0;">Event Analytics</div><div class="t" style="top:164.00px;font-size:14.8px;color:#313b4b;font-weight:400;font-family:'Liberation Sans', sans-serif;letter-spacing:0.832px;left:88.00px;">Events</div><div class="t" style="top:224.00px;font-size:15px;color:#7d8493;font-weight:400;font-family:'Liberation Sans', sans-serif;left:89.50px;-webkit-text-stroke:0;">A</div><div class="t" style="top:224.00px;font-size:15.3px;color:#313b4b;font-weight:400;font-family:'Liberation Sans', sans-serif;letter-spacing:0.649px;left:123.00px;">Revamp-event-1</div><div class="t" style="top:260.60px;font-size:13.2px;color:#6b7385;font-weight:400;font-family:'Liberation Sans', sans-serif;letter-spacing:0.424px;left:124.60px;">Occurrences</div><div class="t" style="top:321.00px;font-size:15.3px;color:#313b4b;font-weight:400;font-family:'Liberation Sans', sans-serif;letter-spacing:0.083px;left:118.00px;">Add Event</div><div class="t" style="top:398.30px;font-size:15.6px;color:#313b4b;font-weight:400;font-family:'Liberation Sans', sans-serif;letter-spacing:0.508px;left:97.70px;">Filters</div><div class="t" style="top:449.20px;font-size:15.6px;color:#313b4b;font-weight:400;font-family:'Liberation Sans', sans-serif;letter-spacing:0.619px;left:96.60px;">User Attributes</div><div class="t" style="top:501.20px;font-size:15.6px;color:#313b4b;font-weight:400;font-family:'Liberation Sans', sans-serif;letter-spacing:0.533px;left:96.20px;">Event Common Attributes</div><div class="t" style="top:552.00px;font-size:15.6px;color:#313b4b;font-weight:400;font-family:'Liberation Sans', sans-serif;letter-spacing:0.435px;left:96.20px;">Lists / Segments</div><div class="t" style="top:629.60px;font-size:15.6px;color:#313b4b;font-weight:400;font-family:'Liberation Sans', sans-serif;letter-spacing:0.276px;left:88.70px;">Split By</div><div class="t" style="top:708.20px;font-size:15.8px;color:#ffffff;font-weight:400;font-family:'Liberation Sans', sans-serif;letter-spacing:0.246px;left:168.20px;-webkit-text-stroke:0.1px #fff;">Refresh</div><div class="t" style="top:163.10px;font-size:15.3px;color:#5b6577;font-weight:400;font-family:'Liberation Sans', sans-serif;letter-spacing:1.408px;left:520.20px;">Custom</div><div class="t" style="top:163.10px;font-size:15.3px;color:#5b6577;font-weight:400;font-family:'Liberation Sans', sans-serif;letter-spacing:1.007px;left:608.60px;">Today</div><div class="t" style="top:163.10px;font-size:15.3px;color:#5b6577;font-weight:400;font-family:'Liberation Sans', sans-serif;letter-spacing:1.022px;left:684.00px;">Yesterday</div><div class="t" style="top:163.10px;font-size:15.6px;color:#5b6577;font-weight:400;font-family:'Liberation Sans', sans-serif;letter-spacing:-0.273px;left:789.60px;">7D</div><div class="t" style="top:163.10px;font-size:15.6px;color:#5b6577;font-weight:400;font-family:'Liberation Sans', sans-serif;letter-spacing:1.327px;left:839.00px;">30D</div><div class="t" style="top:163.10px;font-size:15.6px;color:#5040c0;font-weight:400;font-family:'Liberation Sans', sans-serif;letter-spacing:1.127px;left:900.40px;">3M</div><div class="t" style="top:163.10px;font-size:15.6px;color:#5b6577;font-weight:400;font-family:'Liberation Sans', sans-serif;letter-spacing:1.127px;left:952.90px;">6M</div><div class="t" style="top:163.10px;font-size:15.6px;color:#5b6577;font-weight:400;font-family:'Liberation Sans', sans-serif;letter-spacing:0.727px;left:1004.10px;">12M</div><div class="t" style="top:162.60px;font-size:15.1px;color:#3b4350;font-weight:400;font-family:'Liberation Sans', sans-serif;letter-spacing:0.619px;left:1375.30px;">Line</div><div class="t" style="top:162.60px;font-size:15.1px;color:#3b4350;font-weight:400;font-family:'Liberation Sans', sans-serif;letter-spacing:0.486px;left:1466.90px;">Days</div><div class="t" style="top:138.90px;font-size:18.1px;color:#8e35b9;font-weight:400;font-family:'Liberation Sans', sans-serif;letter-spacing:-0.206px;left:303.00px;-webkit-text-stroke:0;">Selected event</div><div class="t" style="top:93.90px;font-size:18.1px;color:#ef9a3b;font-weight:400;font-family:'Liberation Sans', sans-serif;letter-spacing:-0.198px;left:1023.20px;-webkit-text-stroke:0;">Select a date range</div><div class="t" style="top:101.00px;font-size:18.1px;color:#72a043;font-weight:400;font-family:'Liberation Sans', sans-serif;letter-spacing:-0.140px;left:1371.30px;-webkit-text-stroke:0;">Select a graph</div><div class="t" style="top:230.60px;font-size:18.1px;color:#1b3cf2;font-weight:400;font-family:'Liberation Sans', sans-serif;letter-spacing:-0.151px;left:1330.00px;-webkit-text-stroke:0;">Select data breakdown</div><div class="t" style="top:483.80px;font-size:18.1px;color:#e5402b;font-weight:400;font-family:'Liberation Sans', sans-serif;letter-spacing:-0.167px;left:514.40px;-webkit-text-stroke:0;">Choose a filter</div><div class="t" style="top:233.80px;font-size:13px;color:#6c7380;font-weight:400;font-family:'Liberation Sans', sans-serif;letter-spacing:0.452px;left:982.80px;">A. Revamp-event-1</div><div class="t" style="top:290.70px;font-size:12.3px;color:#666666;font-weight:400;font-family:'Liberation Sans', sans-serif;letter-spacing:0.161px;left:488.60px;-webkit-text-stroke:0;">1500</div><div class="t" style="top:331.00px;font-size:12.3px;color:#666666;font-weight:400;font-family:'Liberation Sans', sans-serif;letter-spacing:0.161px;left:488.60px;-webkit-text-stroke:0;">1000</div><div class="t" style="top:369.70px;font-size:12.3px;color:#666666;font-weight:400;font-family:'Liberation Sans', sans-serif;letter-spacing:0.161px;left:495.60px;-webkit-text-stroke:0;">500</div><div class="t" style="top:408.70px;font-size:12.3px;color:#666666;font-weight:400;font-family:'Liberation Sans', sans-serif;left:509.60px;-webkit-text-stroke:0;">0</div><div class="t" style="top:567.00px;font-size:14.9px;color:#6b7385;font-weight:400;font-family:'Liberation Sans', sans-serif;letter-spacing:0.568px;left:516.40px;">Search...</div><div class="t" style="top:613.70px;font-size:14.9px;color:#9aa1b0;font-weight:400;font-family:'Liberation Sans', sans-serif;letter-spacing:0.825px;left:508.00px;">Events</div><div class="t" style="top:614.50px;font-size:14.9px;color:#9aa1b0;font-weight:400;font-family:'Liberation Sans', sans-serif;letter-spacing:0.893px;left:778.80px;">Sum</div><div class="t" style="top:614.50px;font-size:14.9px;color:#9aa1b0;font-weight:400;font-family:'Liberation Sans', sans-serif;letter-spacing:0.509px;left:913.70px;">Jul 10</div><div class="t" style="top:614.50px;font-size:14.9px;color:#9aa1b0;font-weight:400;font-family:'Liberation Sans', sans-serif;letter-spacing:0.730px;left:1058.80px;">Jul 11</div><div class="t" style="top:614.50px;font-size:14.9px;color:#9aa1b0;font-weight:400;font-family:'Liberation Sans', sans-serif;letter-spacing:0.509px;left:1204.20px;">Jul 12</div><div class="t" style="top:614.50px;font-size:14.9px;color:#9aa1b0;font-weight:400;font-family:'Liberation Sans', sans-serif;letter-spacing:0.509px;left:1349.30px;">Jul 13</div><div class="t" style="top:614.50px;font-size:14.9px;color:#9aa1b0;font-weight:400;font-family:'Liberation Sans', sans-serif;letter-spacing:0.509px;left:1494.40px;">Jul 14</div><div class="t" style="top:658.30px;font-size:14.9px;color:#3b4250;font-weight:400;font-family:'Liberation Sans', sans-serif;letter-spacing:1.004px;left:507.10px;">A. Revamp-event-1 [O...</div><div class="t" style="top:657.20px;font-size:15px;color:#3b4250;font-weight:400;font-family:'Liberation Mono', monospace;letter-spacing:0.324px;left:764.50px;-webkit-text-stroke:0;">1,000</div><div class="t" style="top:657.20px;font-size:15px;color:#3b4250;font-weight:400;font-family:'Liberation Mono', monospace;left:946.70px;-webkit-text-stroke:0;">0</div><div class="t" style="top:657.20px;font-size:15px;color:#3b4250;font-weight:400;font-family:'Liberation Mono', monospace;left:1091.80px;-webkit-text-stroke:0;">0</div><div class="t" style="top:657.20px;font-size:15px;color:#3b4250;font-weight:400;font-family:'Liberation Mono', monospace;left:1237.20px;-webkit-text-stroke:0;">0</div><div class="t" style="top:657.20px;font-size:15px;color:#3b4250;font-weight:400;font-family:'Liberation Mono', monospace;left:1382.30px;-webkit-text-stroke:0;">0</div><div class="t" style="top:657.20px;font-size:15px;color:#3b4250;font-weight:400;font-family:'Liberation Mono', monospace;left:1527.40px;-webkit-text-stroke:0;">0</div>
<div class="a" style="left:70px;top:204.2px;width:355px;height:87.2px;border:3px solid #8d2fbf;"></div><div class="a" style="left:70px;top:367.3px;width:357.5px;height:219px;border:3px solid #e5432b;"></div><div class="a" style="left:473px;top:139px;width:577px;height:58px;border:3px solid #ef9535;"></div><div class="a" style="left:1326px;top:147.5px;width:111.4px;height:39.5px;border:3px solid #72a043;"></div><div class="a" style="left:1451px;top:152px;width:83px;height:31.5px;border:3px solid #1c3cf5;"></div><svg style="left:0;top:0" width="1" height="1">
<path d="M274 204 C262 188 266 167 285 157" fill="none" stroke="#8e35b9" stroke-width="3"/>
<path d="M283 151.6 L297.8 152.1 L288.5 163.8 Z" fill="#8e35b9"/>
<path d="M969 135 C970 115 980 102 1002 101.8" fill="none" stroke="#ef9a3b" stroke-width="3"/>
<path d="M1000.8 95.3 L1014 103.4 L1000.8 108.3 Z" fill="#ef9a3b"/>
<path d="M1340.4 146 C1334 133 1338 124 1350 116" fill="none" stroke="#72a043" stroke-width="3"/>
<path d="M1346.5 111 L1361.4 111 L1352.9 122.6 Z" fill="#72a043"/>
<path d="M1475.3 190 L1450 218.5" fill="none" stroke="#1b3cf2" stroke-width="3"/>
<path d="M1444 225.6 L1447 211.4 L1457.6 220.4 Z" fill="#1b3cf2"/>
<path d="M436.5 414 L503 481" fill="none" stroke="#e5402b" stroke-width="2.8"/>
<path d="M511.5 488.4 L497.1 484.3 L506.3 474.7 Z" fill="#e5402b"/>
</svg><div class="a" style="left:100px;top:700px;width:1400px;height:43px;background:linear-gradient(rgba(0,0,0,0) 0%, rgba(0,0,0,0.02) 35%, rgba(0,0,0,0.055) 70%, rgba(0,0,0,0.1) 100%);-webkit-mask-image:linear-gradient(90deg,transparent 0,#000 140px,#000 1150px,transparent 1345px);"></div><div class="a" style="left:0;top:736px;width:8px;height:8px;background:radial-gradient(circle at 8px 0, transparent 6.5px, #c8c8c8 7px, #111 8px);"></div>
</div></body></html>
